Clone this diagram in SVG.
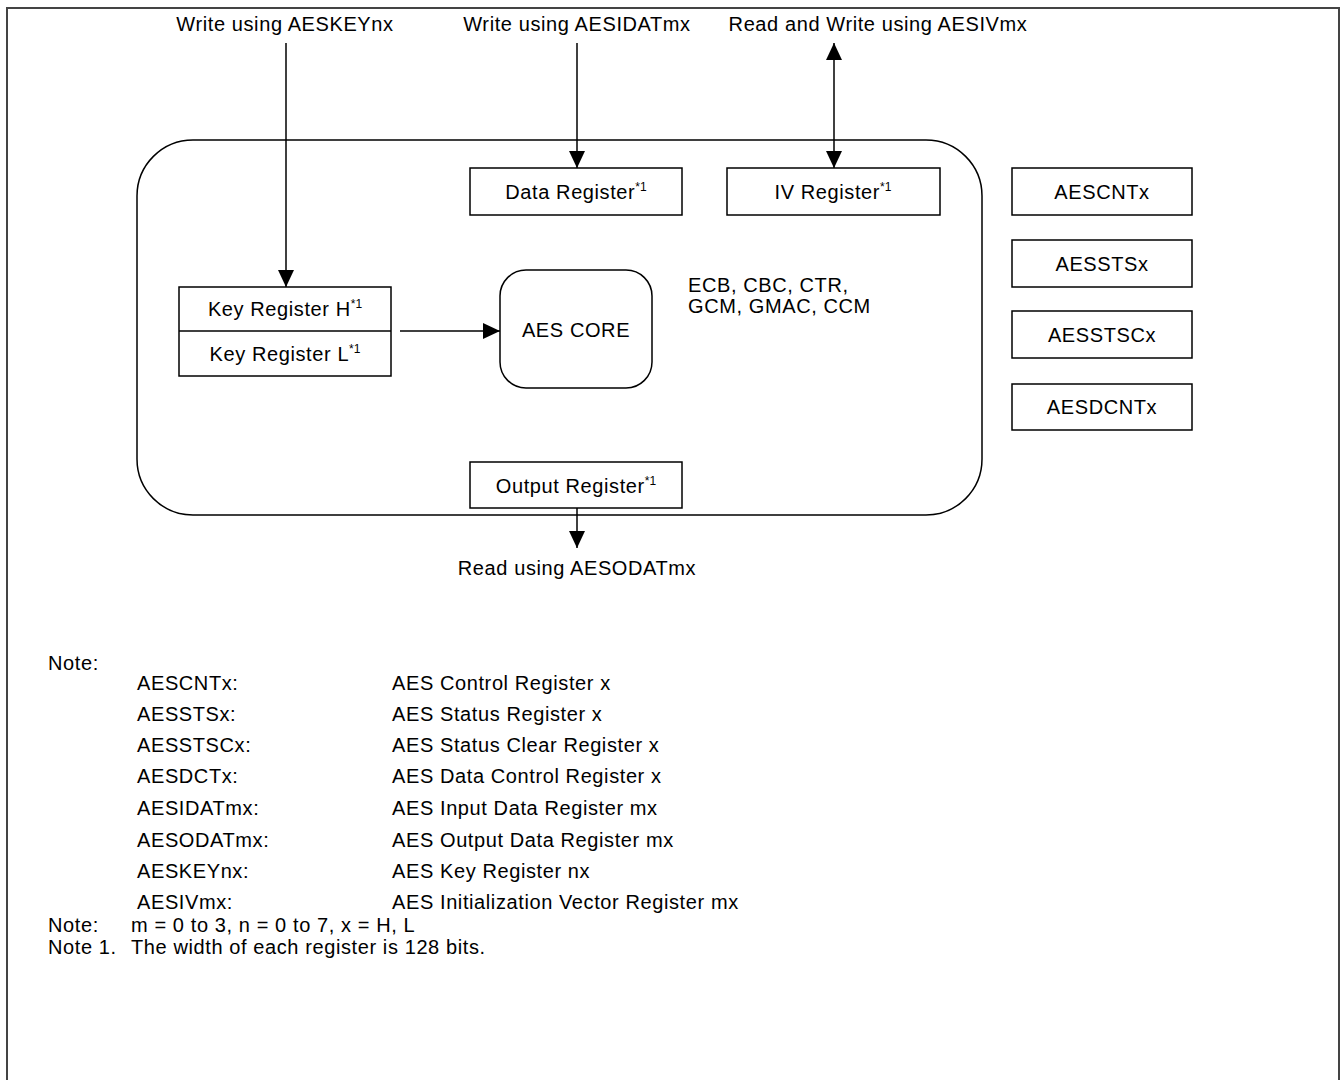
<svg xmlns="http://www.w3.org/2000/svg" width="1343" height="1080" viewBox="0 0 1343 1080">
<style>
text{font-family:"Liberation Sans",Arial,sans-serif;font-size:20px;letter-spacing:0.6px;fill:#000}
.c{text-anchor:middle}
.sup{font-size:12px;letter-spacing:0}
.box{fill:#fff;stroke:#000;stroke-width:1.5}
.ln{fill:none;stroke:#000;stroke-width:1.5}
</style>
<defs>
<marker id="ah" viewBox="0 0 17 16" refX="17" refY="8" markerWidth="17" markerHeight="16" markerUnits="userSpaceOnUse" orient="auto-start-reverse">
<path d="M0,0 L17,8 L0,16 z" fill="#000"/>
</marker>
</defs>
<rect x="7" y="8" width="1332" height="1110" fill="none" stroke="#444" stroke-width="2"/>
<g id="aes-block">
<rect x="137" y="140" width="845" height="375" rx="56" ry="56" class="ln"/>
</g>
<g id="connectors">
<line x1="286" y1="43" x2="286" y2="287" class="ln" marker-end="url(#ah)"/>
<line x1="577" y1="43" x2="577" y2="168" class="ln" marker-end="url(#ah)"/>
<line x1="834" y1="43" x2="834" y2="168" class="ln" marker-start="url(#ah)" marker-end="url(#ah)"/>
<line x1="400" y1="331" x2="500" y2="331" class="ln" marker-end="url(#ah)"/>
<line x1="577" y1="508" x2="577" y2="548" class="ln" marker-end="url(#ah)"/>
</g>
<g id="labels">
<text x="285" y="31" class="c">Write using AESKEYnx</text>
<text x="577" y="31" class="c">Write using AESIDATmx</text>
<text x="878" y="31" class="c">Read and Write using AESIVmx</text>
<text x="577" y="575" class="c">Read using AESODATmx</text>
<text x="688" y="292">ECB, CBC, CTR,</text>
<text x="688" y="313">GCM, GMAC, CCM</text>
</g>
<g id="data-register">
<rect x="470" y="168" width="212" height="47" class="box"/>
<text x="576" y="199" class="c">Data Register<tspan class="sup" dy="-8">*1</tspan></text>
</g>
<g id="iv-register">
<rect x="727" y="168" width="213" height="47" class="box"/>
<text x="833" y="199" class="c">IV Register<tspan class="sup" dy="-8">*1</tspan></text>
</g>
<g id="key-register">
<rect x="179" y="287" width="212" height="89" class="box"/>
<line x1="179" y1="331" x2="391" y2="331" class="ln"/>
<text x="285" y="316" class="c">Key Register H<tspan class="sup" dy="-8">*1</tspan></text>
<text x="285" y="361" class="c">Key Register L<tspan class="sup" dy="-8">*1</tspan></text>
</g>
<g id="aes-core">
<rect x="500" y="270" width="152" height="118" rx="26" ry="26" class="box"/>
<text x="576" y="337" class="c">AES CORE</text>
</g>
<g id="output-register">
<rect x="470" y="462" width="212" height="46" class="box"/>
<text x="576" y="493" class="c">Output Register<tspan class="sup" dy="-8">*1</tspan></text>
</g>
<g id="aescntx">
<rect x="1012" y="168" width="180" height="47" class="box"/>
<text x="1102" y="199" class="c">AESCNTx</text>
</g>
<g id="aesstsx">
<rect x="1012" y="240" width="180" height="47" class="box"/>
<text x="1102" y="271" class="c">AESSTSx</text>
</g>
<g id="aesstscx">
<rect x="1012" y="311" width="180" height="47" class="box"/>
<text x="1102" y="342" class="c">AESSTSCx</text>
</g>
<g id="aesdcntx">
<rect x="1012" y="384" width="180" height="46" class="box"/>
<text x="1102" y="414" class="c">AESDCNTx</text>
</g>
<g id="notes">
<text x="48" y="670">Note:</text>
<text x="137" y="690">AESCNTx:</text>
<text x="392" y="690">AES Control Register x</text>
<text x="137" y="721">AESSTSx:</text>
<text x="392" y="721">AES Status Register x</text>
<text x="137" y="752">AESSTSCx:</text>
<text x="392" y="752">AES Status Clear Register x</text>
<text x="137" y="783">AESDCTx:</text>
<text x="392" y="783">AES Data Control Register x</text>
<text x="137" y="815">AESIDATmx:</text>
<text x="392" y="815">AES Input Data Register mx</text>
<text x="137" y="847">AESODATmx:</text>
<text x="392" y="847">AES Output Data Register mx</text>
<text x="137" y="878">AESKEYnx:</text>
<text x="392" y="878">AES Key Register nx</text>
<text x="137" y="909">AESIVmx:</text>
<text x="392" y="909">AES Initialization Vector Register mx</text>
<text x="48" y="932">Note:</text>
<text x="131" y="932">m = 0 to 3, n = 0 to 7, x = H, L</text>
<text x="48" y="954">Note 1.</text>
<text x="131" y="954">The width of each register is 128 bits.</text>
</g>
</svg>
